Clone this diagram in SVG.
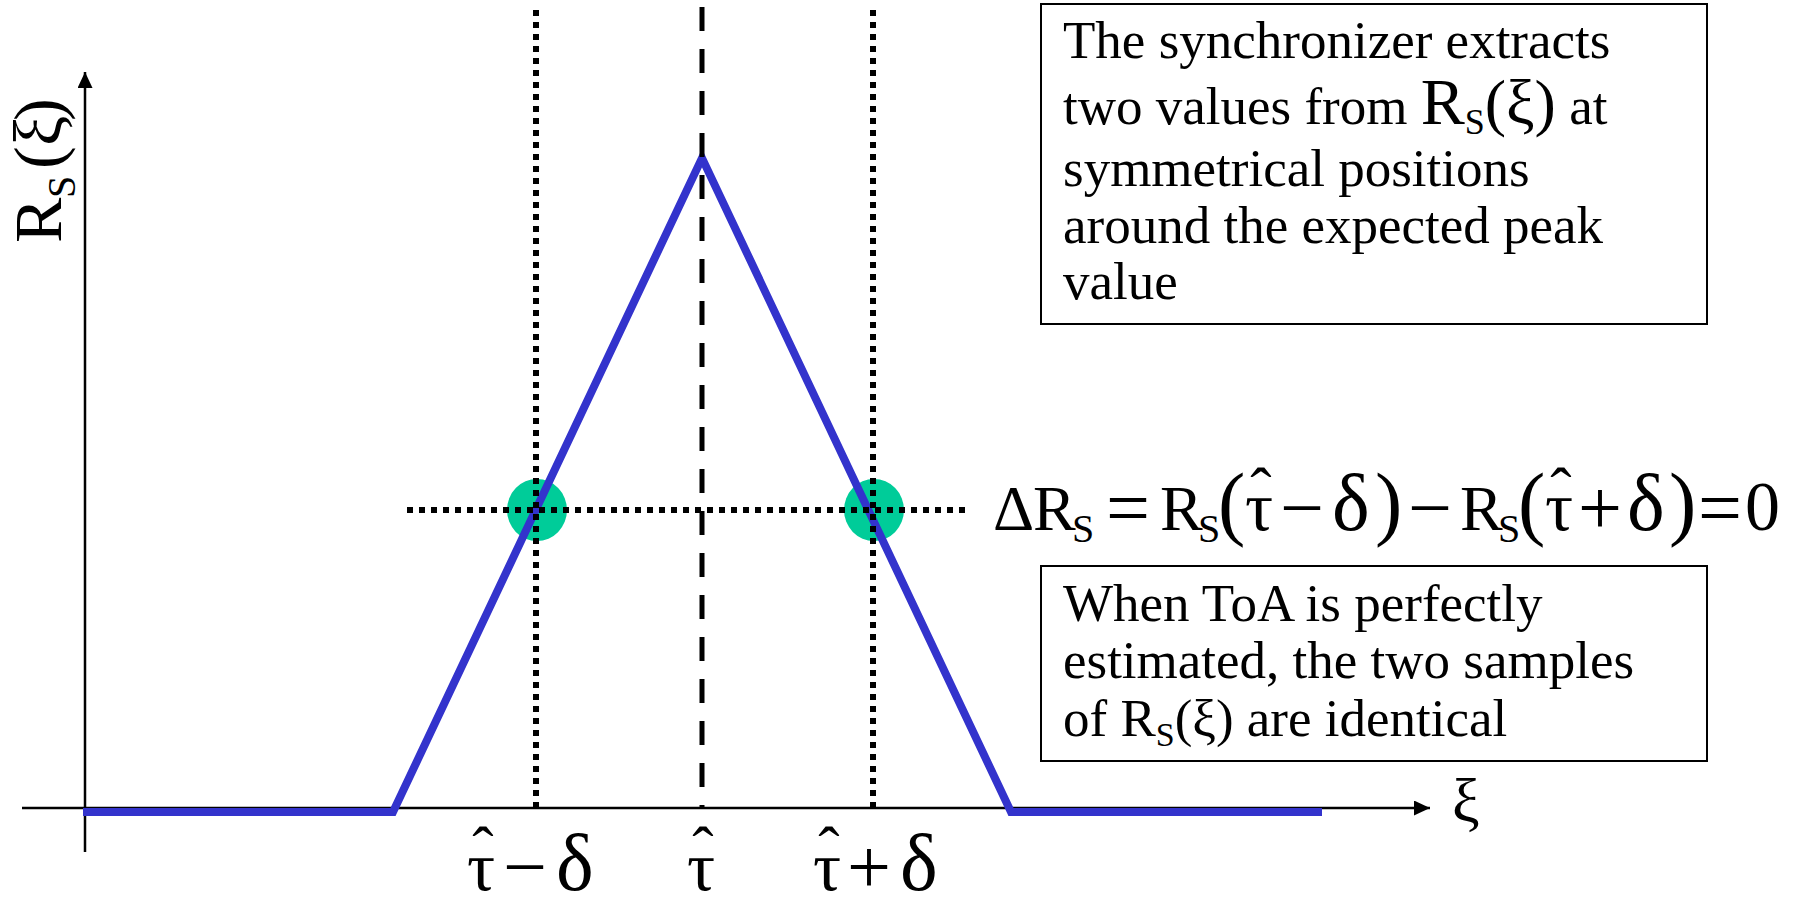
<svg xmlns="http://www.w3.org/2000/svg" width="1794" height="901" viewBox="0 0 1794 901">
<style>
 .t{font-family:"Liberation Serif","Times New Roman",serif;fill:#000}
 .box{fill:#fff;stroke:#000;stroke-width:2}
 .dot{stroke:#000;stroke-width:6;stroke-dasharray:6 6;fill:none}
 .dash{stroke:#000;stroke-width:5;stroke-dasharray:24 18;fill:none}
 .axis{stroke:#000;stroke-width:2.5;fill:none}
 .curve{stroke:#3333CC;stroke-width:8;fill:none;stroke-linejoin:miter}
 .spot{fill:#00CC99}
 .op{font-size:78px}
 .dl{font-size:80px}
 .tau{font-size:70px}
</style>
<defs>
 <marker id="arr" viewBox="0 0 16 15" refX="16" refY="7.5" markerWidth="16" markerHeight="15" markerUnits="userSpaceOnUse" orient="auto"><path d="M0,0 L16,7.5 L0,15 z" fill="#000"/></marker>
</defs>
<rect width="1794" height="901" fill="#fff"/>

<g id="axes">
 <line class="axis" x1="85" y1="852" x2="85" y2="72" marker-end="url(#arr)"/>
 <line class="axis" x1="22" y1="808" x2="1430" y2="808" marker-end="url(#arr)"/>
</g>

<g id="samples">
 <ellipse class="spot" cx="537" cy="510" rx="30" ry="31"/>
 <ellipse class="spot" cx="874" cy="510" rx="30" ry="31"/>
</g>

<g id="curve">
 <polyline class="curve" points="83,812 393,812 702,158 1011,812 1322,812"/>
</g>

<g id="guides">
 <line class="dot" x1="536" y1="10" x2="536" y2="808"/>
 <line class="dot" x1="873" y1="10" x2="873" y2="808"/>
 <line class="dash" x1="702" y1="7" x2="702" y2="808"/>
 <line class="dot" x1="407" y1="510" x2="967" y2="510"/>
</g>

<g id="y-label">
 <text class="t" font-size="68" transform="translate(61,243) rotate(-90)"><tspan x="0" y="0">R</tspan><tspan x="45" y="14" font-size="40">S</tspan><tspan x="74" y="0">(</tspan><tspan x="97" y="0">ξ</tspan><tspan x="122" y="0">)</tspan></text>
</g>

<g id="x-label">
 <text class="t" font-size="62" x="1452" y="821">ξ</text>
</g>

<g id="tick-labels">
 <text class="t" font-size="64"><tspan class="tau" x="467" y="890">τ</tspan><tspan class="op" x="503" y="893">−</tspan><tspan class="dl" x="556" y="890">δ</tspan></text>
 <text class="t" font-size="64" text-anchor="middle" x="483" y="871">ˆ</text>
 <text class="t tau" x="687" y="890">τ</text>
 <text class="t" font-size="64" text-anchor="middle" x="703" y="871">ˆ</text>
 <text class="t" font-size="64"><tspan class="tau" x="813" y="890">τ</tspan><tspan class="op" x="847" y="893">+</tspan><tspan class="dl" x="900" y="890">δ</tspan></text>
 <text class="t" font-size="64" text-anchor="middle" x="829" y="871">ˆ</text>
</g>

<g id="equation">
 <text class="t" font-size="64"><tspan x="993" y="530">Δ</tspan><tspan x="1033" y="530">R</tspan><tspan x="1072" y="542" font-size="40">S</tspan><tspan class="op" x="1106" y="534">=</tspan><tspan x="1160" y="530">R</tspan><tspan x="1198" y="542" font-size="40">S</tspan><tspan x="1218" y="530" font-size="82">(</tspan><tspan class="tau" x="1245" y="530">τ</tspan><tspan class="op" x="1280" y="534">−</tspan><tspan class="dl" x="1332" y="530">δ</tspan><tspan x="1375" y="530" font-size="82">)</tspan><tspan class="op" x="1408" y="534">−</tspan><tspan x="1460" y="530">R</tspan><tspan x="1498" y="542" font-size="40">S</tspan><tspan x="1518" y="530" font-size="82">(</tspan><tspan class="tau" x="1545" y="530">τ</tspan><tspan class="op" x="1578" y="534">+</tspan><tspan class="dl" x="1627" y="530">δ</tspan><tspan x="1669" y="530" font-size="82">)</tspan><tspan class="op" x="1698" y="534">=</tspan><tspan x="1745" y="530" font-size="70">0</tspan></text>
 <text class="t" font-size="64" text-anchor="middle" x="1261" y="512">ˆ</text>
 <text class="t" font-size="64" text-anchor="middle" x="1561" y="512">ˆ</text>
</g>

<g id="note-top">
 <rect class="box" x="1041" y="4" width="666" height="320"/>
 <text class="t" font-size="53">
  <tspan x="1063" y="58">The synchronizer extracts</tspan>
  <tspan x="1063" y="124">two values from <tspan font-size="66">R</tspan><tspan font-size="36" dy="10">S</tspan><tspan font-size="64" dy="-10">(ξ)</tspan> at</tspan>
  <tspan x="1063" y="186">symmetrical positions</tspan>
  <tspan x="1063" y="243">around the expected peak</tspan>
  <tspan x="1063" y="299">value</tspan>
 </text>
</g>

<g id="note-bottom">
 <rect class="box" x="1041" y="566" width="666" height="195"/>
 <text class="t" font-size="53">
  <tspan x="1063" y="621">When ToA is perfectly</tspan>
  <tspan x="1063" y="678">estimated, the two samples</tspan>
  <tspan x="1063" y="736">of R<tspan font-size="34" dy="10">S</tspan><tspan dy="-10">(ξ) are identical</tspan></tspan>
 </text>
</g>
</svg>
